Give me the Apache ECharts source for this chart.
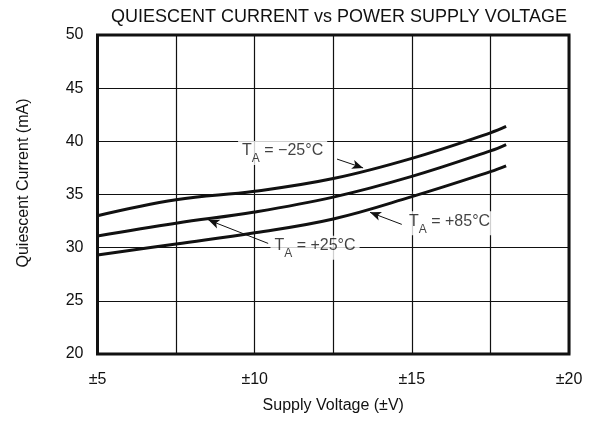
<!DOCTYPE html>
<html>
<head>
<meta charset="utf-8">
<script src="https://cdn.jsdelivr.net/npm/echarts@6/dist/echarts.min.js"></script>
<style>
  html, body { margin: 0; padding: 0; background: #fff; }
  #chart { width: 598px; height: 424px; }
</style>
</head>
<body>
<div id="chart"></div>
<script>
// supply voltage (±V) and quiescent current (mA)
const voltage = [5, 7.5, 10, 12.5, 15, 17.5, 18]
const iqMinus25 = [33.0, 34.5, 35.3, 36.5, 38.4, 40.8, 41.4]
const iqPlus25 = [31.1, 32.3, 33.35, 34.75, 36.7, 39.1, 39.7]
const iqPlus85 = [29.3, 30.35, 31.4, 32.7, 34.8, 37.15, 37.7]

const xTicks = [5, 10, 15, 20]

// annotation: label anchor [V, mA], arrow start, arrow tip
const labels = [
  { temp: '−25°C', at: [10.89, 38.9], from: [12.62, 38.33], to: [13.45, 37.5] },
  { temp: '+25°C', at: [11.92, 30.0], from: [10.43, 30.4], to: [8.53, 32.6] },
  { temp: '+85°C', at: [16.2, 32.3], from: [14.68, 32.19], to: [13.67, 33.32] }
]

const font = 'Liberation Sans, Arial, Helvetica, sans-serif'
const ink = '#111'

const pairs = ys => voltage.map((v, i) => [v, ys[i]])

const curve = ys => ({
  type: 'line',
  data: pairs(ys),
  smooth: 0.4,
  showSymbol: false,
  silent: true,
  z: 5,
  lineStyle: { color: ink, width: 3 }
})

const richTa = {
  t: { fontSize: 16, fontFamily: font, color: ink, lineHeight: 24, verticalAlign: 'top', padding: [2, 0, 0, 0] },
  s: { fontSize: 12, fontFamily: font, color: ink, lineHeight: 24, verticalAlign: 'bottom' }
}

const chart = echarts.init(document.getElementById('chart'))
chart.setOption({
  animation: false,
  title: {
    text: 'QUIESCENT CURRENT vs POWER SUPPLY VOLTAGE',
    left: 334,
    textAlign: 'center',
    top: 3,
    textStyle: { fontFamily: font, fontSize: 18, fontWeight: 'normal', color: ink }
  },
  grid: {
    left: 97.5,
    right: 29,
    top: 35,
    bottom: 70,
    outerBoundsMode: 'none',
    show: true,
    borderColor: ink,
    borderWidth: 3,
    z: 10
  },
  xAxis: {
    type: 'value',
    min: 5,
    max: 20,
    interval: 2.5,
    name: 'Supply Voltage (±V)',
    nameLocation: 'middle',
    nameGap: 44,
    nameTextStyle: { fontFamily: font, fontSize: 16, color: ink },
    axisLine: { show: false },
    axisTick: { show: false },
    axisLabel: {
      margin: 18,
      fontFamily: font,
      fontSize: 16,
      color: ink,
      formatter: v => (xTicks.includes(v) ? '±' + v : '')
    },
    splitLine: { show: true, lineStyle: { color: ink, width: 1.2 } }
  },
  yAxis: {
    type: 'value',
    min: 20,
    max: 50,
    interval: 5,
    name: 'Quiescent Current (mA)',
    nameLocation: 'middle',
    nameGap: 66,
    nameTextStyle: { fontFamily: font, fontSize: 16, color: ink, padding: [0, 0, 0, 23] },
    axisLine: { show: false },
    axisTick: { show: false },
    axisLabel: { margin: 14, fontFamily: font, fontSize: 16, color: ink },
    splitLine: { show: true, lineStyle: { color: ink, width: 1.2 } }
  },
  series: [
    curve(iqMinus25),
    curve(iqPlus25),
    curve(iqPlus85),
    {
      type: 'scatter',
      silent: true,
      symbolSize: 0,
      z: 6,
      data: labels.map(l => ({ value: l.at, temp: l.temp })),
      label: {
        show: true,
        position: 'inside',
        backgroundColor: '#fff',
        padding: [0, 4, 0, 4],
        formatter: p => '{t|T}{s|A}{t| = ' + p.data.temp + '}',
        rich: richTa
      },
      markLine: {
        silent: true,
        symbol: ['none', 'arrow'],
        symbolSize: [7, 11],
        label: { show: false },
        lineStyle: { color: ink, width: 1, type: 'solid' },
        data: labels.map(l => [{ coord: l.from }, { coord: l.to }])
      }
    }
  ]
})
</script>
</body>
</html>
